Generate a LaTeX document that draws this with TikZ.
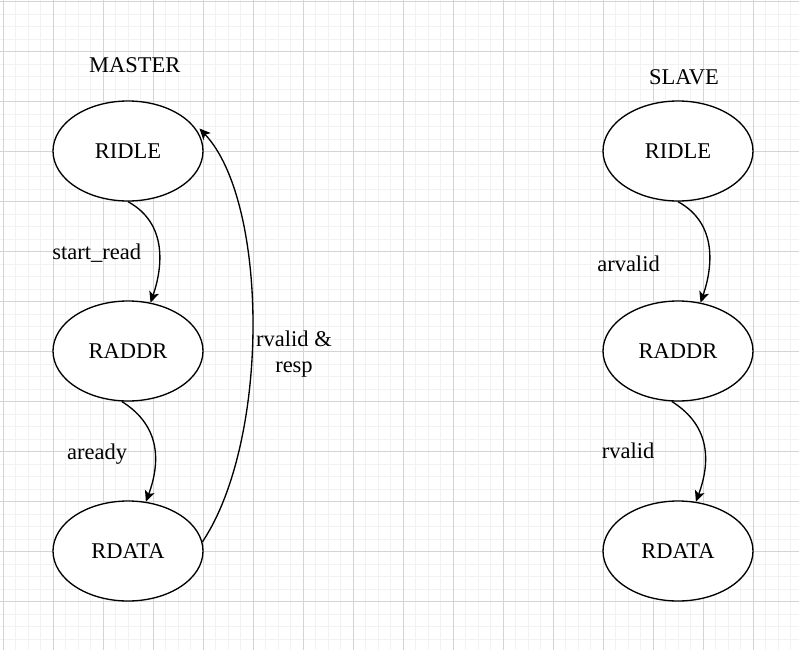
\documentclass[tikz,border=0pt]{standalone}
\usepackage{fontspec}
\setmainfont{Liberation Serif}
\usetikzlibrary{shapes.geometric,arrows.meta,calc}
\definecolor{gridminor}{HTML}{F2F2F2}
\definecolor{gridmajor}{HTML}{D4D4D4}
\begin{document}
\begin{tikzpicture}[x=0.75pt,y=-0.75pt,
  lbl/.style={font=\fontsize{16.875pt}{19.7pt}\selectfont},
  state/.style={ellipse,draw,fill=white,line width=1pt,minimum width=112.5pt,minimum height=75pt,inner sep=0pt,lbl},
  edge/.style={line width=1pt,-{Stealth[length=8.25pt,width=7.5pt,inset=2pt]}},
  gminor/.style={gridminor,line width=0.75pt},
  gmajor/.style={gridmajor,line width=0.75pt}]
\useasboundingbox (0,0) rectangle (799,650);
\fill[white] (0,0) rectangle (799,650);
\foreach \i in {0,...,63} \draw[gminor] ({3.3+12.5*\i},0) -- ({3.3+12.5*\i},650);
\foreach \i in {0,...,51} \draw[gminor] (0,{1.7+12.5*\i}) -- (799,{1.7+12.5*\i});
\foreach \i in {0,...,15} \draw[gmajor] ({3.3+50*\i},0) -- ({3.3+50*\i},650);
\foreach \i in {0,...,12} \draw[gmajor] (0,{1.7+50*\i}) -- (799,{1.7+50*\i});

\node[state] (m1) at (128,151) {RIDLE};
\node[state] (m2) at (128,351) {RADDR};
\node[state] (m3) at (128,551) {RDATA};
\node[state] (s1) at (678,151) {RIDLE};
\node[state] (s2) at (678,351) {RADDR};
\node[state] (s3) at (678,551) {RDATA};

\draw[edge] (m1.-90) .. controls +(40,22) and +(12,-35) .. (m2.65);
\draw[edge] (m2.-97) .. controls +(40,25) and +(14,-38) .. (m3.70);
\draw[edge] (m3.7) .. controls +(68,-102) and +(69,73) .. ($(m1.20)+(5,1.7)$);
\draw[edge] (s1.-90) .. controls +(40,22) and +(12,-35) .. (s2.65);
\draw[edge] (s2.-97) .. controls +(40,25) and +(14,-38) .. (s3.70);

\node[lbl,anchor=base] (tm) at (134.7,72) {MASTER};
\node[lbl,anchor=base] (ts) at (684,84) {SLAVE};
\node[lbl,anchor=base] (l1) at (96.8,259) {start\_read};
\node[lbl,anchor=base] (l2) at (97.2,459) {aready};
\node[lbl,align=center] (l3) at (294,354) {rvalid \&\\resp};
\node[lbl,anchor=base] (l4) at (628.5,271.7) {arvalid};
\node[lbl,anchor=base] (l5) at (628,458.3) {rvalid};
\end{tikzpicture}
\end{document}
